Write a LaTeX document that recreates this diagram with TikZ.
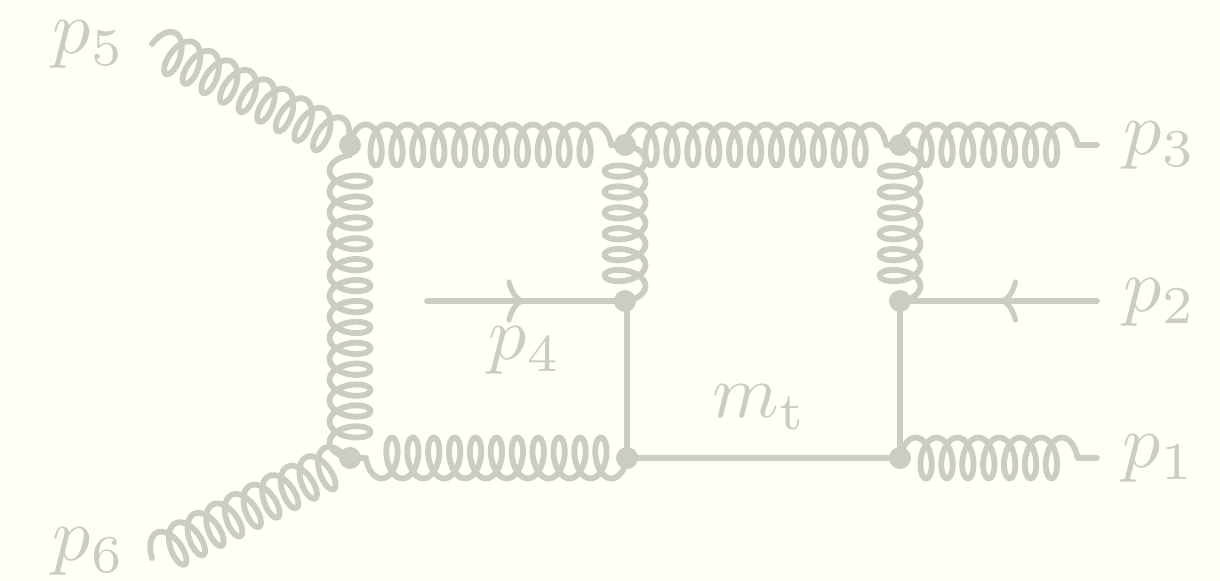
\documentclass[tikz,border=0pt]{standalone}
\usetikzlibrary{calc,decorations.markings}
\definecolor{bgc}{HTML}{FFFFF3}
\definecolor{inkc}{HTML}{CCCCC3}
\tikzset{
 vtx/.style={circle,fill=inkc,inner sep=0pt,minimum size=11pt},
 lbl/.style={text=inkc,scale=3.8,inner sep=0pt},
 fline/.style={draw=inkc,line width=2.9pt,line cap=round},
 gline/.style={draw=inkc,line width=2.9pt,line cap=round,line join=round},
 barb/.style={postaction={decorate,decoration={markings,mark=at position #1 with {
   \draw[inkc,line width=2.6pt,line cap=round] (-6.5pt,9.5pt) .. controls (-5.5pt,5pt) and (-3pt,1pt) .. (0,0) .. controls (-3pt,-1pt) and (-5.5pt,-5pt) .. (-6.5pt,-9.5pt);}}}}
}
% gluon from #1 to #2 with #3 loops: trochoid, then straight tail to the target
\newcommand\gluonline[3]{%
 \draw[gline] let \p1=(#1),\p2=(#2),\n1={atan2(\y2-\y1,\x2-\x1)} in
  (#1.center) -- plot[variable=\t,samples=\numexpr #3*28+15\relax,domain=-90:{360*#3+90}]
  ({\x1+(1.663*rad(\t+90)+5.2*(sin(\t)+1))*cos(\n1)-10.25*cos(\t)*sin(\n1)},
   {\y1+(1.663*rad(\t+90)+5.2*(sin(\t)+1))*sin(\n1)+10.25*cos(\t)*cos(\n1)})
  -- (#2.center);}
\begin{document}
\begin{tikzpicture}[x=0.5pt,y=-0.5pt]
\fill[bgc] (0,0) rectangle (1220,581);
\useasboundingbox (0,0) rectangle (1220,581);
\coordinate (e5) at (152,44);
\coordinate (e6) at (152,558);
\coordinate (e3) at (1097,145);
\coordinate (e2) at (1097,301);
\coordinate (e1) at (1097,458);
\coordinate (e4) at (427,301);
\node[vtx] (A) at (350,145) {};
\node[vtx] (B) at (625,145) {};
\node[vtx] (C) at (900,145) {};
\node[vtx] (D) at (625,301) {};
\node[vtx] (E) at (900,301) {};
\node[vtx] (F) at (627,458) {};
\node[vtx] (G) at (900,458) {};
\node[vtx] (H) at (350,458) {};
\gluonline{A}{B}{11}
\gluonline{B}{C}{11}
\gluonline{C}{e3}{7}
\gluonline{F}{H}{11}
\gluonline{G}{e1}{7}
\gluonline{H}{A}{13}
\gluonline{B}{D}{6}
\gluonline{C}{E}{6}
\gluonline{e5}{A}{9}
\gluonline{e6}{H}{9}
\draw[fline,barb=0.48] (e4) -- (D.center);
\draw[fline,barb=0.48] (e2) -- (E.center);
\draw[fline] (F.center |- D.center) -- (F.center);
\draw[fline] (E.center) -- (G.center);
\draw[fline] (F.center) -- (G.center);
\node[lbl] (p5) at (89,45) {$p_5$};
\node[lbl] (p6) at (89,552) {$p_6$};
\node[lbl] (p3) at (1160,146) {$p_3$};
\node[lbl] (p2) at (1160,303) {$p_2$};
\node[lbl] (p1) at (1159,459) {$p_1$};
\node[lbl] (p4) at (525,351) {$p_4$};
\node[lbl] (mt) at (760,407) {$m_{\mathrm{t}}$};
\end{tikzpicture}
\end{document}
